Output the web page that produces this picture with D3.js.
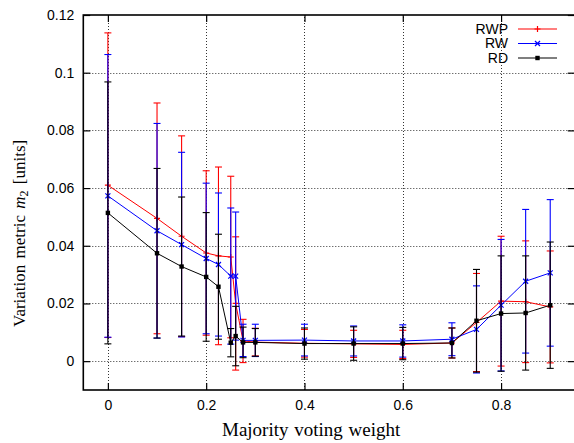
<!DOCTYPE html>
<html>
<head>
<meta charset="utf-8">
<script src="https://cdn.jsdelivr.net/npm/d3@7"></script>
<style>
  body { margin: 0; background: #fff; }
  svg text { fill: #000; }
</style>
</head>
<body>
<div id="chart"></div>
<script>
// majority voting weights (x)
var weights = [0, 0.1, 0.15, 0.2, 0.225, 0.25, 0.26, 0.275, 0.3, 0.4, 0.5, 0.6, 0.7, 0.75, 0.8, 0.85, 0.9];

// RWP mean and error half-width
var rwpMean = [0.0610, 0.0495, 0.0433, 0.0375, 0.0365, 0.0361, 0.0200, 0.0070, 0.0066, 0.0062, 0.0060, 0.0058, 0.0063, 0.0134, 0.0208, 0.0206, 0.0188];
var rwpErr  = [0.0528, 0.0400, 0.0348, 0.0285, 0.0308, 0.0280, 0.0231, 0.0075, 0.0048, 0.0048, 0.0047, 0.0049, 0.0052, 0.0170, 0.0225, 0.0211, 0.0194];

// RW
var rwMean = [0.0573, 0.0452, 0.0404, 0.0356, 0.0335, 0.0295, 0.0295, 0.0072, 0.0072, 0.0073, 0.0070, 0.0070, 0.0076, 0.0110, 0.0194, 0.0277, 0.0306];
var rwErr  = [0.0490, 0.0372, 0.0320, 0.0261, 0.0248, 0.0236, 0.0222, 0.0056, 0.0056, 0.0055, 0.0052, 0.0056, 0.0057, 0.0151, 0.0228, 0.0249, 0.0254];

// RD
var rdMean = [0.0514, 0.0374, 0.0328, 0.0292, 0.0258, 0.0064, 0.0087, 0.0065, 0.0065, 0.0061, 0.0061, 0.0061, 0.0063, 0.0140, 0.0165, 0.0167, 0.0194];
var rdErr  = [0.0454, 0.0294, 0.0241, 0.0223, 0.0182, 0.0049, 0.0103, 0.0053, 0.0048, 0.0054, 0.0058, 0.0056, 0.0052, 0.0178, 0.0200, 0.0198, 0.0219];

var xTicks = [0, 0.2, 0.4, 0.6, 0.8];
var yTicks = [0, 0.02, 0.04, 0.06, 0.08, 0.1, 0.12];

var seriesNames = ['RWP', 'RW', 'RD'];
var seriesColors = ['#ff0000', '#0000ff', '#000000'];
var seriesMarks = ['plus', 'cross', 'square'];

var width = 574, height = 443;
var margin = {left: 83.3, top: 15, bottom: 53};

var svg = d3.select('#chart').append('svg')
    .attr('width', width)
    .attr('height', height);

var x = d3.scaleLinear()
    .domain([-0.05, 0.95])
    .range([margin.left, margin.left + 491.5]);

var y = d3.scaleLinear()
    .domain([-0.01, 0.12])
    .range([height - margin.bottom, margin.top]);

var x0 = x.range()[0], x1 = x.range()[1];
var y0 = y.range()[0], y1 = y.range()[1];

// grid
var grid = svg.append('g')
    .attr('stroke', '#333')
    .attr('stroke-width', 1)
    .attr('stroke-dasharray', '1,2');

grid.selectAll('.gx')
    .data(xTicks)
    .enter().append('line')
    .attr('x1', d => Math.round(x(d)) + 0.5)
    .attr('x2', d => Math.round(x(d)) + 0.5)
    .attr('y1', y0)
    .attr('y2', y1);

grid.selectAll('.gy')
    .data(yTicks.filter(d => d < 0.12))
    .enter().append('line')
    .attr('y1', d => Math.round(y(d)) + 0.5)
    .attr('y2', d => Math.round(y(d)) + 0.5)
    .attr('x1', x0)
    .attr('x2', x1);

// axes (ticks point inward, mirrored like gnuplot)
var fontAxis = '"Liberation Sans", Arial, sans-serif';

var gLeft = svg.append('g')
    .attr('transform', 'translate(' + x0 + ',0)')
    .call(d3.axisLeft(y).tickValues(yTicks).tickSize(-7).tickPadding(9)
        .tickFormat(d => d3.format('')(+d.toFixed(2))));

var gBottom = svg.append('g')
    .attr('transform', 'translate(0,' + y0 + ')')
    .call(d3.axisBottom(x).tickValues(xTicks).tickSize(-7).tickPadding(10)
        .tickFormat(d => d3.format('')(+d.toFixed(1))));

var gTop = svg.append('g')
    .attr('transform', 'translate(0,' + y1 + ')')
    .call(d3.axisTop(x).tickValues(xTicks).tickSize(-7).tickFormat(''));

var gRight = svg.append('g')
    .attr('transform', 'translate(' + x1 + ',0)')
    .call(d3.axisRight(y).tickValues(yTicks).tickSize(-7).tickFormat(''));

[gLeft, gBottom, gTop, gRight].forEach(g => {
    g.select('.domain').remove();
    g.selectAll('line').attr('stroke', '#000').attr('stroke-width', 1.2);
    g.selectAll('text')
        .attr('font-family', fontAxis)
        .attr('font-size', 14)
        .attr('fill', '#000');
});

// border
svg.append('rect')
    .attr('x', x0)
    .attr('y', y1)
    .attr('width', x1 - x0)
    .attr('height', y0 - y1)
    .attr('fill', 'none')
    .attr('stroke', '#000')
    .attr('stroke-width', 1.6);

// series
var series = seriesNames.map((name, i) => {
    var means = [rwpMean, rwMean, rdMean][i];
    var errs = [rwpErr, rwErr, rdErr][i];
    return {
        name: name,
        color: seriesColors[i],
        mark: seriesMarks[i],
        values: weights.map((w, j) => ({x: w, y: means[j], e: errs[j]}))
    };
});

var line = d3.line()
    .x(d => x(d.x))
    .y(d => y(d.y));

function drawMark(g, mark, cx, cy, color) {
    if (mark == 'plus') {
        g.append('path')
            .attr('d', 'M' + (cx - 3) + ',' + cy + 'H' + (cx + 3) + 'M' + cx + ',' + (cy - 3) + 'V' + (cy + 3))
            .attr('stroke', color).attr('stroke-width', 1.2);
    } else if (mark == 'cross') {
        g.append('path')
            .attr('d', 'M' + (cx - 2.5) + ',' + (cy - 2.5) + 'L' + (cx + 2.5) + ',' + (cy + 2.5) +
                'M' + (cx - 2.5) + ',' + (cy + 2.5) + 'L' + (cx + 2.5) + ',' + (cy - 2.5))
            .attr('stroke', color).attr('stroke-width', 1.2);
    } else {
        g.append('rect')
            .attr('x', cx - 2.2).attr('y', cy - 2.2)
            .attr('width', 4.4).attr('height', 4.4)
            .attr('fill', color);
    }
}

series.forEach(s => {
    var g = svg.append('g').attr('class', 'series');

    g.append('path')
        .datum(s.values)
        .attr('d', line)
        .attr('fill', 'none')
        .attr('stroke', s.color)
        .attr('stroke-width', 1);

    var bars = g.selectAll('.bar')
        .data(s.values)
        .enter().append('g')
        .attr('class', 'bar');

    bars.append('line')
        .attr('x1', d => x(d.x)).attr('x2', d => x(d.x))
        .attr('y1', d => y(d.y - d.e)).attr('y2', d => y(d.y + d.e))
        .attr('stroke', s.color).attr('stroke-width', 1.1);

    bars.append('line')
        .attr('x1', d => x(d.x) - 3.5).attr('x2', d => x(d.x) + 3.5)
        .attr('y1', d => y(d.y + d.e)).attr('y2', d => y(d.y + d.e))
        .attr('stroke', s.color).attr('stroke-width', 1.1);

    bars.append('line')
        .attr('x1', d => x(d.x) - 3.5).attr('x2', d => x(d.x) + 3.5)
        .attr('y1', d => y(d.y - d.e)).attr('y2', d => y(d.y - d.e))
        .attr('stroke', s.color).attr('stroke-width', 1.1);

    s.values.forEach(d => drawMark(g, s.mark, x(d.x), y(d.y), s.color));
});

// legend
var legend = svg.append('g');
series.forEach((s, i) => {
    var ly = 29 + i * 14.5;
    legend.append('text')
        .attr('x', 508)
        .attr('y', ly)
        .attr('dy', '0.35em')
        .attr('text-anchor', 'end')
        .attr('font-family', fontAxis)
        .attr('font-size', 14)
        .text(s.name);
    legend.append('line')
        .attr('x1', 518).attr('x2', 557)
        .attr('y1', ly).attr('y2', ly)
        .attr('stroke', s.color).attr('stroke-width', 1.2);
    drawMark(legend, s.mark, 537.5, ly, s.color);
});

// axis titles
var fontTitle = '"Liberation Serif", "Times New Roman", serif';

svg.append('text')
    .attr('x', 222)
    .attr('y', 436)
    .attr('text-anchor', 'start')
    .attr('font-family', fontTitle)
    .attr('font-size', 19)
    .attr('word-spacing', 1)
    .text('Majority voting weight');

var ylab = svg.append('text')
    .attr('transform', 'translate(25,327) rotate(-90)')
    .attr('text-anchor', 'start')
    .attr('font-family', fontTitle)
    .attr('font-size', 17)
    .attr('word-spacing', 2);
ylab.append('tspan').text('Variation metric ');
ylab.append('tspan').attr('font-style', 'italic').text('m');
ylab.append('tspan').attr('font-size', 12).attr('dy', 3).text('2');
ylab.append('tspan').attr('dy', -3).text(' [units]');
</script>
</body>
</html>
